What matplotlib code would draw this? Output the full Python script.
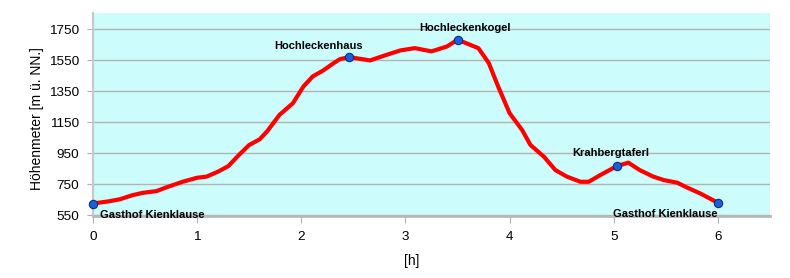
import matplotlib
matplotlib.use('Agg')
import matplotlib.pyplot as plt

# walking time [h] and elevation [m]
hours = [0.0, 0.16, 0.26, 0.38, 0.48, 0.61, 0.70, 0.86, 1.0, 1.09, 1.2, 1.3, 1.4, 1.5, 1.6,
         1.67, 1.79, 1.92, 2.02, 2.11, 2.21, 2.31, 2.37, 2.46, 2.66, 2.82, 2.95, 3.09, 3.25,
         3.40, 3.50, 3.70, 3.80, 3.89, 4.00, 4.12, 4.20, 4.33, 4.44, 4.55, 4.68, 4.76, 4.87,
         5.03, 5.14, 5.25, 5.38, 5.48, 5.61, 5.70, 5.83, 6.0]
elev = [627, 642, 655, 681, 696, 707, 730, 767, 793, 800, 832, 868, 939, 1004, 1040,
        1090, 1197, 1273, 1380, 1445, 1483, 1530, 1556, 1569, 1548, 1584, 1612, 1627, 1606,
        1638, 1681, 1627, 1531, 1380, 1208, 1100, 1004, 928, 842, 800, 767, 767, 810,
        868, 890, 842, 800, 778, 761, 731, 692, 632]

poi_names = ['Gasthof Kienklause', 'Hochleckenhaus', 'Hochleckenkogel', 'Krahbergtaferl', 'Gasthof Kienklause']
poi_h = [0.0, 2.46, 3.50, 5.03, 6.0]
poi_elev = [627, 1569, 1681, 868, 632]
yticks = [550, 750, 950, 1150, 1350, 1550, 1750]

plt.rcParams['font.family'] = ['Liberation Sans', 'DejaVu Sans']
fig = plt.figure(figsize=(7.9, 2.78), dpi=100)
ax = fig.add_axes([93/790, (278-215.5)/278, (770-93)/790, (215.5-13)/278])
ax.set_facecolor('#ccfcfc')
ax.set_xlim(0, 6.5)
ax.set_ylim(550, 1853)
ax.set_yticks(yticks)
ax.set_xticks(range(7))
ax.grid(axis='y', color='#b4b4b4', lw=1)
ax.set_axisbelow(True)
for s in ['top', 'right']:
    ax.spines[s].set_visible(False)
ax.spines['left'].set_color('#c8c8c8'); ax.spines['left'].set_linewidth(1.5)
ax.spines['bottom'].set_color('#b8b8b8'); ax.spines['bottom'].set_linewidth(2)
ax.tick_params(colors='#b0b0b0', labelcolor='black', labelsize=9.7)
ax.tick_params(axis='y', length=4, pad=6)
ax.tick_params(axis='x', length=5, pad=6)
ax.plot(hours, elev, color='#ff0000', lw=3, solid_capstyle='round', solid_joinstyle='round', zorder=3)
ax.plot(poi_h, poi_elev, 'o', ms=6, mfc='#1c5fd6', mec='#0a2f80', mew=0.8, zorder=4, clip_on=False)
offs = [(7, -11, 'left'), (-31, 11, 'center'), (7, 12, 'center'), (-6, 13, 'center'), (0, -11, 'right')]
for n, h, e, (dx, dy, ha) in zip(poi_names, poi_h, poi_elev, offs):
    ax.annotate(n, (h, e), xytext=(dx*0.72, dy*0.72), textcoords='offset points', ha=ha, va='center',
                fontsize=8, fontweight='bold', zorder=5)
ax.set_ylabel('Höhenmeter [m ü. NN.]', fontsize=10)
ax.yaxis.set_label_coords(-0.072, 0.477)
ax.set_xlabel('[h]', fontsize=10)
ax.xaxis.set_label_coords(0.47, -0.19)
fig.savefig('out.png', dpi=100)
